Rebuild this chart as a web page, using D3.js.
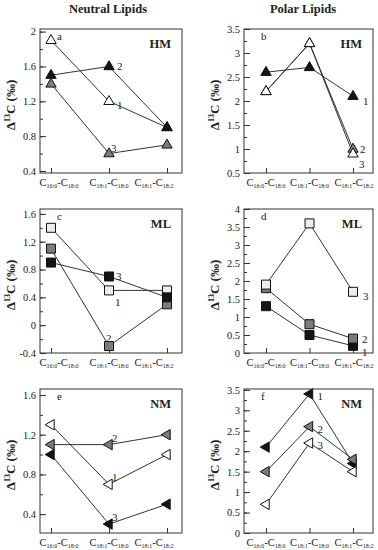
<!DOCTYPE html>
<html>
<head>
<meta charset="utf-8">
<script src="https://cdn.jsdelivr.net/npm/d3@7"></script>
<style>
body { margin: 0; background: #fff; }
text { font-family: "Liberation Serif", "Times New Roman", serif; fill: #222; }
</style>
</head>
<body>
<svg id="chart" width="378" height="550"></svg>
<script>
// category labels: [subscript of first C, subscript of second C]
var categories = [["16:0", "18:0"], ["18:1", "18:0"], ["18:1", "18:2"]];
var seriesNames = ["1", "2", "3"];

// Neutral lipids
var hmNeutral1 = [1.9, 1.2, 0.9];
var hmNeutral2 = [1.5, 1.6, 0.9];
var hmNeutral3 = [1.4, 0.6, 0.7];
var mlNeutral1 = [1.4, 0.5, 0.5];
var mlNeutral2 = [1.1, -0.3, 0.3];
var mlNeutral3 = [0.9, 0.7, 0.4];
var nmNeutral1 = [1.3, 0.7, 1.0];
var nmNeutral2 = [1.1, 1.1, 1.2];
var nmNeutral3 = [1.0, 0.3, 0.5];

// Polar lipids
var hmPolar1 = [2.6, 2.7, 2.1];
var hmPolar2 = [2.2, 3.2, 1.0];
var hmPolar3 = [2.2, 3.2, 0.9];
var mlPolar1 = [1.3, 0.5, 0.2];
var mlPolar2 = [1.8, 0.8, 0.4];
var mlPolar3 = [1.9, 3.6, 1.7];
var nmPolar1 = [2.1, 3.4, 1.7];
var nmPolar2 = [1.5, 2.6, 1.8];
var nmPolar3 = [0.7, 2.2, 1.5];

// y tick values
var ticksA = [0.4, 0.8, 1.2, 1.6, 2];
var ticksB = [0.5, 1, 1.5, 2, 2.5, 3, 3.5];
var ticksC = [-0.4, 0, 0.4, 0.8, 1.2, 1.6];
var ticksD = [0, 0.5, 1, 1.5, 2, 2.5, 3, 3.5, 4];
var ticksE = [0.4, 0.8, 1.2, 1.6];
var ticksF = [0, 0.5, 1, 1.5, 2, 2.5, 3, 3.5];

var FILL = { black: "#141414", gray: "#7c7c7c", open: "#ffffff", light: "#ececec" };

var svg = d3.select("#chart");

// labelShift: horizontal nudge of each category label from its tick
var cols = [
	{ x0: 40, x1: 182, padL: 11, padR: 15, title: "Neutral Lipids", titleX: 108, labelShift: [8, 0, -13] },
	{ x0: 244, x1: 373, padL: 22, padR: 20, title: "Polar Lipids", titleX: 303, labelShift: [0, 0, 1] }
];
var rows = [{ y0: 29, y1: 173 }, { y0: 209, y1: 353 }, { y0: 389, y1: 533 }];

var panels = [
	{ col: 0, row: 0, letter: "a", tag: "HM", shape: "up", domain: [0.377, 2.03], ticks: ticksA, minor: 0.2,
	  series: [hmNeutral1, hmNeutral2, hmNeutral3], fills: ["open", "black", "gray"],
	  labels: [[1, 8, 4], [1, 8, 0], [1, 2, -6]] },
	{ col: 1, row: 0, letter: "b", tag: "HM", shape: "up", domain: [0.5, 3.5], ticks: ticksB, minor: 0.25,
	  series: [hmPolar1, hmPolar2, hmPolar3], fills: ["black", "gray", "open"],
	  labels: [[2, 10, 5], [2, 7, 0], [2, 6, 10]] },
	{ col: 0, row: 1, letter: "c", tag: "ML", shape: "square", domain: [-0.4, 1.67], ticks: ticksC, minor: 0.2,
	  series: [mlNeutral1, mlNeutral2, mlNeutral3], fills: ["light", "gray", "black"],
	  labels: [[1, 6, 12], [1, -3, -8], [1, 7, 0]] },
	{ col: 1, row: 1, letter: "d", tag: "ML", shape: "square", domain: [0, 4], ticks: ticksD, minor: 0.25,
	  series: [mlPolar1, mlPolar2, mlPolar3], fills: ["black", "gray", "light"],
	  labels: [[2, 9, 6], [2, 9, 0], [2, 10, 4]] },
	{ col: 0, row: 2, letter: "e", tag: "NM", shape: "left", domain: [0.21, 1.66], ticks: ticksE, minor: 0.2,
	  series: [nmNeutral1, nmNeutral2, nmNeutral3], fills: ["open", "gray", "black"],
	  labels: [[1, 3, -7], [1, 3, -7], [1, 3, -7]] },
	{ col: 1, row: 2, letter: "f", tag: "NM", shape: "left", domain: [0, 3.52], ticks: ticksF, minor: 0.25,
	  series: [nmPolar1, nmPolar2, nmPolar3], fills: ["black", "gray", "open"],
	  labels: [[1, 8, 2], [1, 8, 2], [1, 8, 2]] }
];

function markerPath(shape) {
	if (shape === "up") return "M0,-5.8L5.2,3.2L-5.2,3.2Z";
	if (shape === "left") return "M-5.8,0L3.2,-5.2L3.2,5.2Z";
	return "M-4.5,-4.5H4.5V4.5H-4.5Z";
}

// column titles
cols.forEach(function (c) {
	svg.append("text")
		.attr("x", c.titleX).attr("y", 13)
		.attr("text-anchor", "middle")
		.attr("font-size", 12.5).attr("font-weight", "bold")
		.text(c.title);
});

panels.forEach(function (p) {
	var c = cols[p.col], r = rows[p.row];
	var g = svg.append("g");

	var x = d3.scalePoint()
		.domain(d3.range(categories.length))
		.range([c.x0 + c.padL, c.x1 - c.padR]);
	var y = d3.scaleLinear().domain(p.domain).range([r.y1, r.y0]);

	// minor y ticks
	var minorVals = d3.range(Math.ceil(p.domain[0] / p.minor - 1e-6), Math.floor(p.domain[1] / p.minor + 1e-6) + 1)
		.map(function (i) { return +(i * p.minor).toFixed(3); });
	g.append("g")
		.attr("transform", "translate(" + c.x0 + ",0)")
		.call(d3.axisLeft(y).tickValues(minorVals).tickSize(-3).tickFormat(""))
		.call(function (s) { s.select(".domain").remove(); s.selectAll("line").attr("stroke", "#333"); });

	// major y ticks
	g.append("g")
		.attr("transform", "translate(" + c.x0 + ",0)")
		.call(d3.axisLeft(y).tickValues(p.ticks).tickSize(-6).tickPadding(4)
			.tickFormat(function (d) { return String(d); }))
		.call(function (s) {
			s.select(".domain").remove();
			s.selectAll("line").attr("stroke", "#333");
			s.selectAll("text").attr("font-size", 10.5).attr("font-family", "Liberation Serif, serif").attr("fill", "#222");
		});

	// x ticks
	var xa = g.append("g")
		.attr("transform", "translate(0," + r.y1 + ")")
		.call(d3.axisBottom(x).tickSize(-5).tickFormat(""));
	xa.select(".domain").remove();
	xa.selectAll("line").attr("stroke", "#333");

	// x labels with subscripts
	categories.forEach(function (cat, i) {
		var t = g.append("text")
			.attr("x", x(i) + c.labelShift[i]).attr("y", r.y1 + 13)
			.attr("text-anchor", "middle")
			.attr("font-size", 10.5);
		t.append("tspan").text("C");
		t.append("tspan").attr("font-size", 6).attr("dy", 2).text(cat[0]);
		t.append("tspan").attr("dy", -2).text("-C");
		t.append("tspan").attr("font-size", 6).attr("dy", 2).text(cat[1]);
	});

	// box
	g.append("rect")
		.attr("x", c.x0).attr("y", r.y0)
		.attr("width", c.x1 - c.x0).attr("height", r.y1 - r.y0)
		.attr("fill", "none").attr("stroke", "#333").attr("stroke-width", 1);

	// y title
	var yt = g.append("text")
		.attr("transform", "translate(" + (c.x0 - 25) + "," + ((r.y0 + r.y1) / 2 + 4) + ") rotate(-90)")
		.attr("text-anchor", "middle")
		.attr("font-size", 13).attr("font-weight", "bold");
	yt.append("tspan").text("\u0394");
	yt.append("tspan").attr("font-size", 8).attr("dy", -5).text("13");
	yt.append("tspan").attr("dy", 5).text("C  (\u2030)");

	// panel letter and tag
	g.append("text")
		.attr("x", c.x0 + 17).attr("y", r.y0 + 11)
		.attr("font-size", 11).text(p.letter);
	g.append("text")
		.attr("x", c.x1 - 11).attr("y", r.y0 + 19)
		.attr("text-anchor", "end")
		.attr("font-size", 12.5).attr("font-weight", "bold").text(p.tag);

	var line = d3.line()
		.x(function (d, i) { return x(i); })
		.y(function (d) { return y(d); });

	p.series.forEach(function (s) {
		g.append("path")
			.datum(s)
			.attr("fill", "none")
			.attr("stroke", "#333")
			.attr("stroke-width", 1)
			.attr("d", line);
	});

	p.series.forEach(function (s, k) {
		g.selectAll(null)
			.data(s)
			.enter().append("path")
			.attr("transform", function (d, i) { return "translate(" + x(i) + "," + y(d) + ")"; })
			.attr("d", markerPath(p.shape))
			.attr("fill", FILL[p.fills[k]])
			.attr("stroke", "#111")
			.attr("stroke-width", 1);
	});

	// series labels
	p.series.forEach(function (s, k) {
		var lb = p.labels[k];
		g.append("text")
			.attr("x", x(lb[0]) + lb[1])
			.attr("y", y(s[lb[0]]) + lb[2] + 4)
			.attr("font-size", 11)
			.text(seriesNames[k]);
	});
});
</script>
</body>
</html>
